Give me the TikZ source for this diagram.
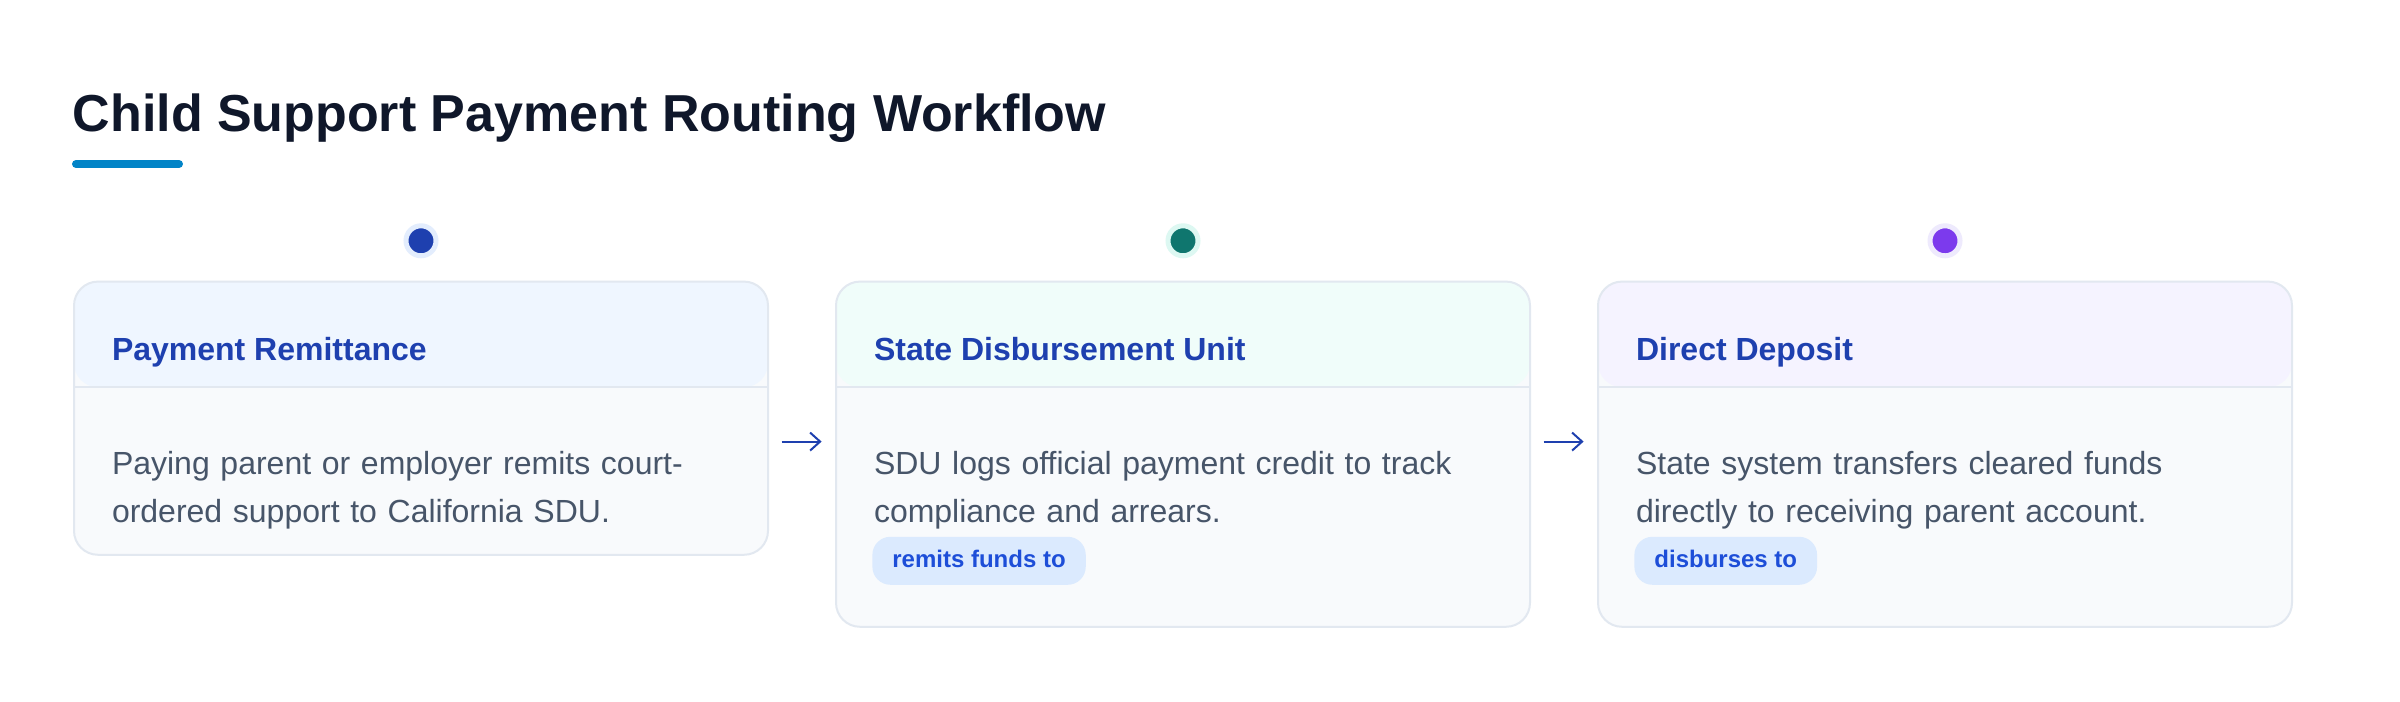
\documentclass[tikz,border=0pt]{standalone}
\usepackage{fontspec}
\setmainfont{Liberation Sans}
\usetikzlibrary{arrows.meta, positioning}

\definecolor{titlecol}{HTML}{0F172A}
\definecolor{accentcol}{HTML}{0284C7}
\definecolor{cardline}{HTML}{E2E8F0}
\definecolor{cardbody}{HTML}{F8FAFC}
\definecolor{headA}{HTML}{EFF6FF}
\definecolor{headB}{HTML}{F0FDFA}
\definecolor{headC}{HTML}{F5F3FF}
\definecolor{dotA}{HTML}{1E40AF}
\definecolor{dotB}{HTML}{0F766E}
\definecolor{dotC}{HTML}{7C3AED}
\definecolor{ringA}{HTML}{E3EDFD}
\definecolor{ringB}{HTML}{DDF8F2}
\definecolor{ringC}{HTML}{EEEAFD}
\definecolor{headtext}{HTML}{1E40AF}
\definecolor{bodytext}{HTML}{475569}
\definecolor{tagfill}{HTML}{DBEAFE}
\definecolor{tagtext}{HTML}{1D4ED8}

\begin{document}
\begin{tikzpicture}[
    heading/.style={anchor=base west, inner sep=0pt, text=titlecol, font=\fontsize{13}{15}\selectfont\bfseries},
    accent/.style={accentcol, line width=2pt, line cap=round},
    card/.style={rectangle, rounded corners=6pt, draw=cardline, line width=0.5pt, fill=cardbody,
        minimum width=173.5pt, inner sep=0pt, outer sep=0pt},
    head/.style={path picture={
        \fill[#1] (path picture bounding box.north west) rectangle ([yshift=-26.4pt]path picture bounding box.north east);
        \draw[cardline, line width=0.5pt] ([yshift=-26.4pt]path picture bounding box.north west) -- ([yshift=-26.4pt]path picture bounding box.north east);}},
    dot/.style 2 args={circle, fill=#1, draw=#2, line width=1.25pt, minimum size=7.5pt, inner sep=0pt},
    cardtitle/.style={anchor=base west, inner sep=0pt, text=headtext, font=\fontsize{8}{10}\selectfont\bfseries},
    cardtext/.style={anchor=base west, inner sep=0pt, text width=165pt, align=left, text=bodytext,
        font=\fontsize{8}{12}\selectfont},
    tag/.style={anchor=north west, rounded corners=4.5pt, fill=tagfill, text=tagtext,
        font=\fontsize{6}{7}\selectfont\bfseries, inner xsep=5pt, inner ysep=0pt,
        minimum height=12pt, text height=3.3pt, text depth=0pt},
    flow/.style={-{Straight Barb[length=2.5pt, width=4.5pt]}, dotA, line width=0.5pt}
  ]
  \useasboundingbox[fill=white] (0,0) rectangle (600pt,-175.5pt);

  \node (title) [heading] at (18pt,-33pt) {Child Support Payment Routing Workflow};
  \draw [accent] ([xshift=1pt, yshift=-8pt]title.base west) -- ++(25.75pt,0);

  \node (remit) [card, head=headA, minimum height=68.3pt, anchor=north west] at (18.5pt,-70.4pt) {};
  \node (sdu) [card, head=headB, minimum height=86.3pt, below right=0pt and 17pt of remit.north east] {};
  \node (deposit) [card, head=headC, minimum height=86.3pt, below right=0pt and 17pt of sdu.north east] {};

  \node (remitdot) [dot={dotA}{ringA}] at ([yshift=10.2pt]remit.north) {};
  \node (sdudot) [dot={dotB}{ringB}] at ([yshift=10.2pt]sdu.north) {};
  \node (depositdot) [dot={dotC}{ringC}] at ([yshift=10.2pt]deposit.north) {};

  \node (remittitle) [cardtitle] at ([xshift=9.3pt, yshift=-19.8pt]remit.north west) {Payment Remittance};
  \node (sdutitle) [cardtitle] at ([xshift=9.3pt, yshift=-19.8pt]sdu.north west) {State Disbursement Unit};
  \node (deposittitle) [cardtitle] at ([xshift=9.3pt, yshift=-19.8pt]deposit.north west) {Direct Deposit};

  \node (remittext) [cardtext] at ([xshift=9.3pt, yshift=-48.3pt]remit.north west)
      {Paying parent or employer remits court-\\ordered support to California SDU.};
  \node (sdutext) [cardtext] at ([xshift=9.3pt, yshift=-48.3pt]sdu.north west)
      {SDU logs official payment credit to track\\compliance and arrears.};
  \node (deposittext) [cardtext] at ([xshift=9.3pt, yshift=-48.3pt]deposit.north west)
      {State system transfers cleared funds\\directly to receiving parent account.};

  \node (sdutag) [tag] at ([xshift=8.9pt, yshift=-63.6pt]sdu.north west) {remits funds to};
  \node (deposittag) [tag] at ([xshift=8.9pt, yshift=-63.6pt]deposit.north west) {disburses to};

  \path [flow]
      ([xshift=3.4pt, yshift=-40pt]remit.north east) edge ([xshift=-3.6pt, yshift=-40pt]sdu.north west)
      ([xshift=3.4pt, yshift=-40pt]sdu.north east) edge ([xshift=-3.6pt, yshift=-40pt]deposit.north west)
      ;
\end{tikzpicture}
\end{document}
